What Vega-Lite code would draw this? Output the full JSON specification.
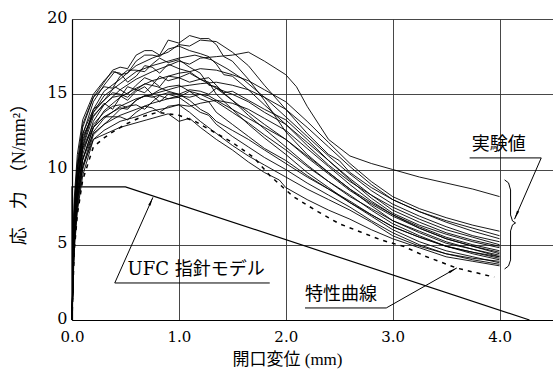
{
"$schema": "https://vega.github.io/schema/vega-lite/v6.json",
"width": 481, "height": 301,
"autosize": {"type": "none"},
"padding": {"left": 72, "top": 19, "right": 0, "bottom": 50},
"background": "white",
"config": {
 "view": {"stroke": null},
 "axis": {"gridColor": "#333", "gridWidth": 0.9, "gridOpacity": 1, "domainColor": "#000", "domainWidth": 1.2, "ticks": false,
  "labelColor": "#000", "labelFont": "DejaVu Serif", "labelFontSize": 16,
  "titleColor": "#000", "titleFont": "Liberation Serif, Noto Sans CJK JP", "titleFontSize": 18, "titleFontWeight": "normal"}
},
"datasets": {
"exp": [
{"s":1,"x":0,"y":0},{"s":1,"x":0.02,"y":7},{"s":1,"x":0.05,"y":10},{"s":1,"x":0.1,"y":12.8},{"s":1,"x":0.2,"y":14.8},{"s":1,"x":0.3,"y":15.8},{"s":1,"x":0.38,"y":16.6},{"s":1,"x":0.45,"y":16.8},{"s":1,"x":0.52,"y":16.7},{"s":1,"x":0.6,"y":17.6},{"s":1,"x":0.68,"y":17.9},{"s":1,"x":0.75,"y":17.9},{"s":1,"x":0.82,"y":17.6},{"s":1,"x":0.9,"y":18.6},{"s":1,"x":1.0,"y":18.4},{"s":1,"x":1.1,"y":18.9},{"s":1,"x":1.2,"y":18.7},{"s":1,"x":1.28,"y":18.7},{"s":1,"x":1.35,"y":18.3},{"s":1,"x":1.42,"y":17.5},{"s":1,"x":1.5,"y":17.2},{"s":1,"x":1.65,"y":16.0},{"s":1,"x":1.8,"y":14.6},{"s":1,"x":2.0,"y":12.5},{"s":1,"x":2.2,"y":11.0},{"s":1,"x":2.4,"y":9.8},{"s":1,"x":2.6,"y":8.7},{"s":1,"x":2.8,"y":7.8},{"s":1,"x":3.0,"y":7.0},{"s":1,"x":3.25,"y":6.2},{"s":1,"x":3.5,"y":5.5},{"s":1,"x":3.75,"y":5.0},{"s":1,"x":4.0,"y":4.6},
{"s":2,"x":0,"y":0},{"s":2,"x":0.02,"y":6},{"s":2,"x":0.05,"y":9},{"s":2,"x":0.1,"y":11.8},{"s":2,"x":0.2,"y":14.0},{"s":2,"x":0.3,"y":15.2},{"s":2,"x":0.45,"y":16.0},{"s":2,"x":0.6,"y":16.9},{"s":2,"x":0.75,"y":17.4},{"s":2,"x":0.9,"y":17.8},{"s":2,"x":1.0,"y":18.3},{"s":2,"x":1.1,"y":18.2},{"s":2,"x":1.2,"y":18.6},{"s":2,"x":1.35,"y":18.5},{"s":2,"x":1.5,"y":17.8},{"s":2,"x":1.65,"y":16.9},{"s":2,"x":1.8,"y":15.6},{"s":2,"x":2.0,"y":14.0},{"s":2,"x":2.2,"y":12.4},{"s":2,"x":2.4,"y":11.0},{"s":2,"x":2.5,"y":10.6},{"s":2,"x":2.6,"y":9.8},{"s":2,"x":2.8,"y":8.8},{"s":2,"x":3.0,"y":8.0},{"s":2,"x":3.25,"y":7.2},{"s":2,"x":3.5,"y":6.5},{"s":2,"x":3.75,"y":5.9},{"s":2,"x":4.0,"y":5.4},
{"s":3,"x":0,"y":0},{"s":3,"x":0.02,"y":6.5},{"s":3,"x":0.05,"y":9.5},{"s":3,"x":0.1,"y":12.3},{"s":3,"x":0.2,"y":14.5},{"s":3,"x":0.3,"y":15.6},{"s":3,"x":0.4,"y":16.5},{"s":3,"x":0.45,"y":16.3},{"s":3,"x":0.52,"y":16.4},{"s":3,"x":0.6,"y":17.2},{"s":3,"x":0.68,"y":17.6},{"s":3,"x":0.75,"y":17.6},{"s":3,"x":0.82,"y":17.5},{"s":3,"x":0.9,"y":18.0},{"s":3,"x":1.0,"y":18.2},{"s":3,"x":1.1,"y":17.9},{"s":3,"x":1.2,"y":17.7},{"s":3,"x":1.28,"y":17.5},{"s":3,"x":1.35,"y":17.0},{"s":3,"x":1.42,"y":16.3},{"s":3,"x":1.5,"y":16.2},{"s":3,"x":1.65,"y":15.3},{"s":3,"x":1.8,"y":14.3},{"s":3,"x":2.0,"y":13.0},{"s":3,"x":2.2,"y":11.6},{"s":3,"x":2.4,"y":10.3},{"s":3,"x":2.6,"y":9.2},{"s":3,"x":2.8,"y":8.3},{"s":3,"x":3.0,"y":7.5},{"s":3,"x":3.25,"y":6.7},{"s":3,"x":3.5,"y":6.0},{"s":3,"x":3.75,"y":5.5},{"s":3,"x":4.0,"y":5.0},
{"s":4,"x":0,"y":0},{"s":4,"x":0.02,"y":5.5},{"s":4,"x":0.05,"y":8.5},{"s":4,"x":0.1,"y":11.0},{"s":4,"x":0.2,"y":13.2},{"s":4,"x":0.3,"y":14.3},{"s":4,"x":0.45,"y":15.3},{"s":4,"x":0.6,"y":16.0},{"s":4,"x":0.75,"y":16.5},{"s":4,"x":0.9,"y":16.9},{"s":4,"x":1.0,"y":17.2},{"s":4,"x":1.1,"y":17.0},{"s":4,"x":1.2,"y":17.4},{"s":4,"x":1.35,"y":17.5},{"s":4,"x":1.5,"y":17.6},{"s":4,"x":1.65,"y":17.8},{"s":4,"x":1.8,"y":17.2},{"s":4,"x":2.0,"y":16.3},{"s":4,"x":2.1,"y":15.5},{"s":4,"x":2.2,"y":14.2},{"s":4,"x":2.4,"y":12.0},{"s":4,"x":2.6,"y":10.9},{"s":4,"x":2.8,"y":10.4},{"s":4,"x":3.0,"y":10.0},{"s":4,"x":3.25,"y":9.5},{"s":4,"x":3.5,"y":9.1},{"s":4,"x":3.75,"y":8.7},{"s":4,"x":4.0,"y":8.2},
{"s":5,"x":0,"y":0},{"s":5,"x":0.02,"y":7.5},{"s":5,"x":0.05,"y":10.5},{"s":5,"x":0.1,"y":13.0},{"s":5,"x":0.2,"y":14.8},{"s":5,"x":0.3,"y":15.5},{"s":5,"x":0.38,"y":15.4},{"s":5,"x":0.45,"y":16.2},{"s":5,"x":0.52,"y":16.6},{"s":5,"x":0.6,"y":16.6},{"s":5,"x":0.68,"y":16.5},{"s":5,"x":0.75,"y":17.0},{"s":5,"x":0.82,"y":17.4},{"s":5,"x":0.9,"y":17.1},{"s":5,"x":1.0,"y":17.3},{"s":5,"x":1.1,"y":16.8},{"s":5,"x":1.2,"y":16.4},{"s":5,"x":1.28,"y":15.6},{"s":5,"x":1.35,"y":15.5},{"s":5,"x":1.5,"y":14.6},{"s":5,"x":1.65,"y":13.6},{"s":5,"x":1.8,"y":12.7},{"s":5,"x":2.0,"y":11.5},{"s":5,"x":2.2,"y":10.3},{"s":5,"x":2.4,"y":9.2},{"s":5,"x":2.6,"y":8.2},{"s":5,"x":2.8,"y":7.4},{"s":5,"x":3.0,"y":6.6},{"s":5,"x":3.25,"y":5.9},{"s":5,"x":3.5,"y":5.2},{"s":5,"x":3.75,"y":4.7},{"s":5,"x":4.0,"y":4.2},
{"s":6,"x":0,"y":0},{"s":6,"x":0.02,"y":8},{"s":6,"x":0.05,"y":11},{"s":6,"x":0.1,"y":13.3},{"s":6,"x":0.2,"y":15.0},{"s":6,"x":0.3,"y":15.9},{"s":6,"x":0.38,"y":16.5},{"s":6,"x":0.45,"y":16.4},{"s":6,"x":0.52,"y":15.8},{"s":6,"x":0.6,"y":16.2},{"s":6,"x":0.68,"y":16.9},{"s":6,"x":0.75,"y":16.8},{"s":6,"x":0.82,"y":16.4},{"s":6,"x":0.9,"y":17.0},{"s":6,"x":1.0,"y":16.7},{"s":6,"x":1.1,"y":16.5},{"s":6,"x":1.2,"y":16.0},{"s":6,"x":1.35,"y":15.4},{"s":6,"x":1.5,"y":14.6},{"s":6,"x":1.65,"y":13.8},{"s":6,"x":1.8,"y":13.0},{"s":6,"x":2.0,"y":12.0},{"s":6,"x":2.2,"y":10.8},{"s":6,"x":2.4,"y":9.7},{"s":6,"x":2.6,"y":8.6},{"s":6,"x":2.8,"y":7.7},{"s":6,"x":3.0,"y":6.9},{"s":6,"x":3.25,"y":6.1},{"s":6,"x":3.5,"y":5.4},{"s":6,"x":3.75,"y":4.9},{"s":6,"x":4.0,"y":4.4},
{"s":7,"x":0,"y":0},{"s":7,"x":0.02,"y":5},{"s":7,"x":0.05,"y":8},{"s":7,"x":0.1,"y":10.6},{"s":7,"x":0.2,"y":12.8},{"s":7,"x":0.3,"y":13.9},{"s":7,"x":0.45,"y":14.8},{"s":7,"x":0.6,"y":15.4},{"s":7,"x":0.75,"y":15.9},{"s":7,"x":0.9,"y":16.2},{"s":7,"x":1.0,"y":16.4},{"s":7,"x":1.1,"y":16.5},{"s":7,"x":1.2,"y":16.7},{"s":7,"x":1.35,"y":16.6},{"s":7,"x":1.5,"y":16.3},{"s":7,"x":1.65,"y":15.9},{"s":7,"x":1.8,"y":15.3},{"s":7,"x":2.0,"y":14.5},{"s":7,"x":2.2,"y":13.2},{"s":7,"x":2.4,"y":11.8},{"s":7,"x":2.6,"y":10.4},{"s":7,"x":2.8,"y":9.2},{"s":7,"x":3.0,"y":8.2},{"s":7,"x":3.25,"y":7.4},{"s":7,"x":3.5,"y":6.8},{"s":7,"x":3.75,"y":6.3},{"s":7,"x":4.0,"y":5.9},
{"s":8,"x":0,"y":0},{"s":8,"x":0.02,"y":6.5},{"s":8,"x":0.05,"y":9.5},{"s":8,"x":0.1,"y":12.0},{"s":8,"x":0.2,"y":13.8},{"s":8,"x":0.3,"y":14.6},{"s":8,"x":0.4,"y":15.5},{"s":8,"x":0.45,"y":15.3},{"s":8,"x":0.52,"y":15.0},{"s":8,"x":0.6,"y":15.6},{"s":8,"x":0.68,"y":16.1},{"s":8,"x":0.75,"y":15.9},{"s":8,"x":0.82,"y":15.5},{"s":8,"x":0.9,"y":16.2},{"s":8,"x":1.0,"y":16.1},{"s":8,"x":1.1,"y":16.4},{"s":8,"x":1.2,"y":16.0},{"s":8,"x":1.28,"y":15.8},{"s":8,"x":1.35,"y":15.0},{"s":8,"x":1.5,"y":14.0},{"s":8,"x":1.65,"y":13.0},{"s":8,"x":1.8,"y":12.1},{"s":8,"x":2.0,"y":11.0},{"s":8,"x":2.2,"y":9.8},{"s":8,"x":2.4,"y":8.8},{"s":8,"x":2.6,"y":7.8},{"s":8,"x":2.8,"y":7.0},{"s":8,"x":3.0,"y":6.2},{"s":8,"x":3.25,"y":5.5},{"s":8,"x":3.5,"y":4.9},{"s":8,"x":3.75,"y":4.4},{"s":8,"x":4.0,"y":4.0},
{"s":9,"x":0,"y":0},{"s":9,"x":0.02,"y":6},{"s":9,"x":0.05,"y":9},{"s":9,"x":0.1,"y":11.5},{"s":9,"x":0.2,"y":13.5},{"s":9,"x":0.3,"y":14.4},{"s":9,"x":0.38,"y":14.0},{"s":9,"x":0.45,"y":14.8},{"s":9,"x":0.52,"y":15.5},{"s":9,"x":0.6,"y":15.3},{"s":9,"x":0.68,"y":15.1},{"s":9,"x":0.75,"y":15.6},{"s":9,"x":0.82,"y":16.2},{"s":9,"x":0.9,"y":15.9},{"s":9,"x":1.0,"y":16.1},{"s":9,"x":1.1,"y":15.8},{"s":9,"x":1.2,"y":16.0},{"s":9,"x":1.28,"y":16.1},{"s":9,"x":1.35,"y":15.6},{"s":9,"x":1.42,"y":15.1},{"s":9,"x":1.5,"y":15.2},{"s":9,"x":1.65,"y":14.6},{"s":9,"x":1.8,"y":14.0},{"s":9,"x":2.0,"y":13.3},{"s":9,"x":2.2,"y":12.0},{"s":9,"x":2.4,"y":10.6},{"s":9,"x":2.6,"y":9.3},{"s":9,"x":2.8,"y":8.1},{"s":9,"x":3.0,"y":7.1},{"s":9,"x":3.25,"y":6.3},{"s":9,"x":3.5,"y":5.7},{"s":9,"x":3.75,"y":5.2},{"s":9,"x":4.0,"y":4.8},
{"s":10,"x":0,"y":0},{"s":10,"x":0.02,"y":5},{"s":10,"x":0.05,"y":7.8},{"s":10,"x":0.1,"y":10.2},{"s":10,"x":0.2,"y":12.5},{"s":10,"x":0.3,"y":13.4},{"s":10,"x":0.45,"y":14.2},{"s":10,"x":0.6,"y":14.7},{"s":10,"x":0.75,"y":15.0},{"s":10,"x":0.9,"y":15.3},{"s":10,"x":1.0,"y":15.5},{"s":10,"x":1.1,"y":15.6},{"s":10,"x":1.2,"y":15.7},{"s":10,"x":1.35,"y":15.8},{"s":10,"x":1.5,"y":15.6},{"s":10,"x":1.65,"y":15.3},{"s":10,"x":1.8,"y":14.8},{"s":10,"x":2.0,"y":14.0},{"s":10,"x":2.2,"y":12.8},{"s":10,"x":2.4,"y":11.5},{"s":10,"x":2.6,"y":10.2},{"s":10,"x":2.8,"y":9.0},{"s":10,"x":3.0,"y":8.0},{"s":10,"x":3.25,"y":7.2},{"s":10,"x":3.5,"y":6.6},{"s":10,"x":3.75,"y":6.1},{"s":10,"x":4.0,"y":5.6},
{"s":11,"x":0,"y":0},{"s":11,"x":0.02,"y":7},{"s":11,"x":0.05,"y":10},{"s":11,"x":0.1,"y":12.2},{"s":11,"x":0.2,"y":13.6},{"s":11,"x":0.3,"y":14.3},{"s":11,"x":0.38,"y":14.8},{"s":11,"x":0.45,"y":14.9},{"s":11,"x":0.52,"y":14.6},{"s":11,"x":0.6,"y":15.2},{"s":11,"x":0.68,"y":15.5},{"s":11,"x":0.75,"y":15.0},{"s":11,"x":0.82,"y":15.3},{"s":11,"x":0.9,"y":15.5},{"s":11,"x":1.0,"y":15.6},{"s":11,"x":1.1,"y":15.2},{"s":11,"x":1.2,"y":14.7},{"s":11,"x":1.28,"y":14.5},{"s":11,"x":1.35,"y":13.8},{"s":11,"x":1.5,"y":13.0},{"s":11,"x":1.65,"y":12.2},{"s":11,"x":1.8,"y":11.4},{"s":11,"x":2.0,"y":10.6},{"s":11,"x":2.2,"y":9.6},{"s":11,"x":2.4,"y":8.7},{"s":11,"x":2.6,"y":7.8},{"s":11,"x":2.8,"y":6.9},{"s":11,"x":3.0,"y":6.0},{"s":11,"x":3.25,"y":5.2},{"s":11,"x":3.5,"y":4.6},{"s":11,"x":3.75,"y":4.2},{"s":11,"x":4.0,"y":3.8},
{"s":12,"x":0,"y":0},{"s":12,"x":0.02,"y":5.5},{"s":12,"x":0.05,"y":8.3},{"s":12,"x":0.1,"y":10.7},{"s":12,"x":0.2,"y":12.8},{"s":12,"x":0.3,"y":13.5},{"s":12,"x":0.45,"y":14.1},{"s":12,"x":0.52,"y":14.0},{"s":12,"x":0.6,"y":14.6},{"s":12,"x":0.68,"y":14.9},{"s":12,"x":0.75,"y":14.8},{"s":12,"x":0.9,"y":15.1},{"s":12,"x":1.0,"y":15.0},{"s":12,"x":1.1,"y":15.3},{"s":12,"x":1.2,"y":15.2},{"s":12,"x":1.28,"y":15.0},{"s":12,"x":1.35,"y":15.4},{"s":12,"x":1.5,"y":15.0},{"s":12,"x":1.65,"y":14.5},{"s":12,"x":1.8,"y":13.8},{"s":12,"x":2.0,"y":13.0},{"s":12,"x":2.2,"y":11.8},{"s":12,"x":2.4,"y":10.6},{"s":12,"x":2.6,"y":9.4},{"s":12,"x":2.8,"y":8.3},{"s":12,"x":3.0,"y":7.3},{"s":12,"x":3.25,"y":6.5},{"s":12,"x":3.5,"y":5.8},{"s":12,"x":3.75,"y":5.3},{"s":12,"x":4.0,"y":4.9},
{"s":13,"x":0,"y":0},{"s":13,"x":0.02,"y":6},{"s":13,"x":0.05,"y":9},{"s":13,"x":0.1,"y":11.4},{"s":13,"x":0.2,"y":13.0},{"s":13,"x":0.3,"y":13.8},{"s":13,"x":0.38,"y":14.2},{"s":13,"x":0.45,"y":14.3},{"s":13,"x":0.52,"y":14.1},{"s":13,"x":0.6,"y":14.6},{"s":13,"x":0.68,"y":14.9},{"s":13,"x":0.75,"y":14.9},{"s":13,"x":0.82,"y":14.5},{"s":13,"x":0.9,"y":15.0},{"s":13,"x":1.0,"y":14.8},{"s":13,"x":1.1,"y":15.2},{"s":13,"x":1.2,"y":15.0},{"s":13,"x":1.28,"y":14.9},{"s":13,"x":1.35,"y":14.6},{"s":13,"x":1.5,"y":14.0},{"s":13,"x":1.65,"y":13.4},{"s":13,"x":1.8,"y":12.8},{"s":13,"x":2.0,"y":12.0},{"s":13,"x":2.2,"y":10.9},{"s":13,"x":2.4,"y":9.8},{"s":13,"x":2.6,"y":8.7},{"s":13,"x":2.8,"y":7.6},{"s":13,"x":3.0,"y":6.6},{"s":13,"x":3.25,"y":5.8},{"s":13,"x":3.5,"y":5.1},{"s":13,"x":3.75,"y":4.7},{"s":13,"x":4.0,"y":4.3},
{"s":14,"x":0,"y":0},{"s":14,"x":0.02,"y":5},{"s":14,"x":0.05,"y":7.5},{"s":14,"x":0.1,"y":10.0},{"s":14,"x":0.2,"y":12.3},{"s":14,"x":0.3,"y":13.0},{"s":14,"x":0.45,"y":13.6},{"s":14,"x":0.6,"y":14.0},{"s":14,"x":0.75,"y":14.4},{"s":14,"x":0.9,"y":14.7},{"s":14,"x":1.0,"y":14.9},{"s":14,"x":1.1,"y":14.8},{"s":14,"x":1.2,"y":15.0},{"s":14,"x":1.35,"y":14.5},{"s":14,"x":1.5,"y":13.8},{"s":14,"x":1.65,"y":13.1},{"s":14,"x":1.8,"y":12.3},{"s":14,"x":2.0,"y":11.3},{"s":14,"x":2.2,"y":10.2},{"s":14,"x":2.4,"y":9.2},{"s":14,"x":2.6,"y":8.3},{"s":14,"x":2.8,"y":7.3},{"s":14,"x":3.0,"y":6.4},{"s":14,"x":3.25,"y":5.6},{"s":14,"x":3.5,"y":4.9},{"s":14,"x":3.75,"y":4.5},{"s":14,"x":4.0,"y":4.1},
{"s":15,"x":0,"y":0},{"s":15,"x":0.02,"y":6.5},{"s":15,"x":0.05,"y":9.2},{"s":15,"x":0.1,"y":11.3},{"s":15,"x":0.2,"y":12.8},{"s":15,"x":0.3,"y":13.5},{"s":15,"x":0.38,"y":13.5},{"s":15,"x":0.45,"y":14.0},{"s":15,"x":0.52,"y":14.2},{"s":15,"x":0.6,"y":14.3},{"s":15,"x":0.68,"y":14.0},{"s":15,"x":0.75,"y":14.5},{"s":15,"x":0.82,"y":14.9},{"s":15,"x":0.9,"y":14.7},{"s":15,"x":1.0,"y":14.8},{"s":15,"x":1.1,"y":14.3},{"s":15,"x":1.2,"y":13.8},{"s":15,"x":1.28,"y":13.6},{"s":15,"x":1.35,"y":13.0},{"s":15,"x":1.5,"y":12.2},{"s":15,"x":1.65,"y":11.5},{"s":15,"x":1.8,"y":10.8},{"s":15,"x":2.0,"y":10.0},{"s":15,"x":2.2,"y":9.1},{"s":15,"x":2.4,"y":8.3},{"s":15,"x":2.6,"y":7.5},{"s":15,"x":2.8,"y":6.6},{"s":15,"x":3.0,"y":5.8},{"s":15,"x":3.25,"y":5.0},{"s":15,"x":3.5,"y":4.4},{"s":15,"x":3.75,"y":4.0},{"s":15,"x":4.0,"y":3.7},
{"s":16,"x":0,"y":0},{"s":16,"x":0.02,"y":4.5},{"s":16,"x":0.05,"y":7.2},{"s":16,"x":0.1,"y":9.6},{"s":16,"x":0.2,"y":12.0},{"s":16,"x":0.3,"y":12.6},{"s":16,"x":0.45,"y":13.2},{"s":16,"x":0.6,"y":13.5},{"s":16,"x":0.75,"y":13.9},{"s":16,"x":0.9,"y":14.1},{"s":16,"x":1.0,"y":14.3},{"s":16,"x":1.1,"y":14.2},{"s":16,"x":1.2,"y":14.4},{"s":16,"x":1.35,"y":14.6},{"s":16,"x":1.5,"y":14.4},{"s":16,"x":1.65,"y":14.0},{"s":16,"x":1.8,"y":13.4},{"s":16,"x":2.0,"y":12.6},{"s":16,"x":2.2,"y":11.4},{"s":16,"x":2.4,"y":10.2},{"s":16,"x":2.6,"y":9.0},{"s":16,"x":2.8,"y":7.9},{"s":16,"x":3.0,"y":7.0},{"s":16,"x":3.25,"y":6.1},{"s":16,"x":3.5,"y":5.4},{"s":16,"x":3.75,"y":4.9},{"s":16,"x":4.0,"y":4.5},
{"s":17,"x":0,"y":0},{"s":17,"x":0.02,"y":6},{"s":17,"x":0.05,"y":8.6},{"s":17,"x":0.1,"y":10.7},{"s":17,"x":0.2,"y":12.4},{"s":17,"x":0.3,"y":13.0},{"s":17,"x":0.38,"y":13.5},{"s":17,"x":0.45,"y":13.5},{"s":17,"x":0.52,"y":13.3},{"s":17,"x":0.6,"y":13.8},{"s":17,"x":0.68,"y":14.2},{"s":17,"x":0.75,"y":14.1},{"s":17,"x":0.82,"y":13.8},{"s":17,"x":0.9,"y":14.2},{"s":17,"x":1.0,"y":14.3},{"s":17,"x":1.1,"y":13.8},{"s":17,"x":1.2,"y":13.2},{"s":17,"x":1.35,"y":12.4},{"s":17,"x":1.5,"y":11.6},{"s":17,"x":1.65,"y":10.9},{"s":17,"x":1.8,"y":10.3},{"s":17,"x":2.0,"y":9.5},{"s":17,"x":2.2,"y":8.7},{"s":17,"x":2.4,"y":8.0},{"s":17,"x":2.6,"y":7.3},{"s":17,"x":2.8,"y":6.5},{"s":17,"x":3.0,"y":5.6},{"s":17,"x":3.25,"y":4.9},{"s":17,"x":3.5,"y":4.4},{"s":17,"x":3.75,"y":4.1},{"s":17,"x":4.0,"y":3.9},
{"s":18,"x":0,"y":0},{"s":18,"x":0.02,"y":5.5},{"s":18,"x":0.05,"y":8},{"s":18,"x":0.1,"y":10.2},{"s":18,"x":0.2,"y":12.0},{"s":18,"x":0.26,"y":12.2},{"s":18,"x":0.45,"y":12.8},{"s":18,"x":0.7,"y":13.3},{"s":18,"x":0.9,"y":13.7},{"s":18,"x":1.0,"y":13.2},{"s":18,"x":1.1,"y":13.4},{"s":18,"x":1.2,"y":12.8},{"s":18,"x":1.35,"y":12.0},{"s":18,"x":1.5,"y":11.3},{"s":18,"x":1.65,"y":10.5},{"s":18,"x":1.8,"y":9.8},{"s":18,"x":1.94,"y":9.3},{"s":18,"x":2.0,"y":8.8},{"s":18,"x":2.2,"y":8.0},{"s":18,"x":2.4,"y":7.3},{"s":18,"x":2.6,"y":6.7},{"s":18,"x":2.8,"y":6.0},{"s":18,"x":3.0,"y":5.4},{"s":18,"x":3.25,"y":4.8},{"s":18,"x":3.5,"y":4.2},{"s":18,"x":3.75,"y":3.9},{"s":18,"x":4.0,"y":3.6},
{"s":19,"x":0,"y":0},{"s":19,"x":0.02,"y":7},{"s":19,"x":0.05,"y":10.2},{"s":19,"x":0.1,"y":12.4},{"s":19,"x":0.2,"y":14.0},{"s":19,"x":0.3,"y":14.6},{"s":19,"x":0.38,"y":15.1},{"s":19,"x":0.45,"y":15.0},{"s":19,"x":0.52,"y":14.8},{"s":19,"x":0.6,"y":15.3},{"s":19,"x":0.68,"y":15.7},{"s":19,"x":0.8,"y":15.5},{"s":19,"x":0.9,"y":15.2},{"s":19,"x":1.0,"y":15.0},{"s":19,"x":1.1,"y":14.6},{"s":19,"x":1.2,"y":14.0},{"s":19,"x":1.28,"y":13.7},{"s":19,"x":1.35,"y":13.2},{"s":19,"x":1.5,"y":12.6},{"s":19,"x":1.65,"y":12.0},{"s":19,"x":1.8,"y":11.3},{"s":19,"x":2.0,"y":10.4},{"s":19,"x":2.2,"y":9.5},{"s":19,"x":2.4,"y":8.7},{"s":19,"x":2.6,"y":7.9},{"s":19,"x":2.8,"y":7.0},{"s":19,"x":3.0,"y":6.2},{"s":19,"x":3.25,"y":5.5},{"s":19,"x":3.5,"y":4.9},{"s":19,"x":3.75,"y":4.5},{"s":19,"x":4.0,"y":4.2},
{"s":20,"x":0,"y":0},{"s":20,"x":0.02,"y":6},{"s":20,"x":0.05,"y":9},{"s":20,"x":0.1,"y":11.6},{"s":20,"x":0.2,"y":13.8},{"s":20,"x":0.3,"y":14.9},{"s":20,"x":0.45,"y":15.7},{"s":20,"x":0.6,"y":16.5},{"s":20,"x":0.75,"y":16.9},{"s":20,"x":0.9,"y":17.2},{"s":20,"x":1.0,"y":17.4},{"s":20,"x":1.15,"y":17.6},{"s":20,"x":1.3,"y":17.3},{"s":20,"x":1.45,"y":16.7},{"s":20,"x":1.6,"y":16.0},{"s":20,"x":1.8,"y":14.8},{"s":20,"x":2.0,"y":13.5},{"s":20,"x":2.2,"y":12.2},{"s":20,"x":2.4,"y":10.9},{"s":20,"x":2.6,"y":9.7},{"s":20,"x":2.8,"y":8.6},{"s":20,"x":3.0,"y":7.7},{"s":20,"x":3.25,"y":6.9},{"s":20,"x":3.5,"y":6.2},{"s":20,"x":3.75,"y":5.6},{"s":20,"x":4.0,"y":5.2}
],
"char": [
{"x":0,"y":0},{"x":0.02,"y":4.5},{"x":0.05,"y":7},{"x":0.1,"y":9.3},{"x":0.2,"y":11.5},{"x":0.3,"y":12.1},{"x":0.36,"y":12.4},{"x":0.5,"y":13.0},{"x":0.65,"y":13.5},{"x":0.8,"y":13.8},{"x":1.0,"y":13.6},{"x":1.15,"y":13.2},{"x":1.3,"y":12.6},{"x":1.5,"y":11.8},{"x":1.7,"y":10.8},{"x":1.85,"y":9.6},{"x":2.07,"y":8.2},{"x":2.3,"y":7.2},{"x":2.5,"y":6.4},{"x":2.7,"y":5.85},{"x":2.9,"y":5.3},{"x":3.1,"y":4.9},{"x":3.3,"y":4.25},{"x":3.6,"y":3.45},{"x":3.95,"y":2.85}
],
"ufc": [
{"i":0,"x":0,"y":0},{"i":1,"x":0,"y":8.85},{"i":2,"x":0.5,"y":8.85},{"i":3,"x":4.28,"y":0}
],
"brace": [
{"i":0,"x":4.047,"y":9.31},{"i":1,"x":4.084,"y":9.11},{"i":2,"x":4.103,"y":8.64},{"i":3,"x":4.103,"y":6.98},{"i":4,"x":4.121,"y":6.58},{"i":5,"x":4.15,"y":6.45},{"i":6,"x":4.121,"y":6.32},{"i":7,"x":4.103,"y":5.92},{"i":8,"x":4.103,"y":3.99},{"i":9,"x":4.084,"y":3.59},{"i":10,"x":4.047,"y":3.39}
],
"rules": [
{"x":0.40,"y":2.46,"x2":1.85,"y2":2.46},{"x":0.40,"y":2.46,"x2":0.757,"y2":8.15},
{"x":2.18,"y":0.8,"x2":2.94,"y2":0.8},{"x":2.94,"y":0.8,"x2":3.6,"y2":3.46},
{"x":3.72,"y":10.77,"x2":4.39,"y2":10.77},{"x":4.39,"y":10.77,"x2":4.14,"y2":6.7}
],
"heads": [
{"x":0.757,"y":8.15,"a":24},{"x":3.6,"y":3.46,"a":60},{"x":4.14,"y":6.7,"a":204}
],
"txt": [
{"x":0.52,"y":3.3,"t":"UFC 指針モデル"},{"x":2.18,"y":1.66,"t":"特性曲線"},{"x":3.74,"y":11.6,"t":"実験値"}
]
},
"encoding": {
 "x": {"field": "x", "type": "quantitative", "scale": {"domain": [0, 4.5], "nice": false, "zero": false},
  "axis": {"values": [0, 1, 2, 3, 4], "format": ".1f", "labelFlush": false, "labelPadding": 9, "labelFontSize": 15,
   "title": "開口変位 (mm)", "titleFontSize": 17, "titleX": 215, "titleY": 39, "titleBaseline": "middle"}},
 "y": {"field": "y", "type": "quantitative", "scale": {"domain": [0, 20], "nice": false},
  "axis": {"values": [0, 5, 10, 15, 20], "labelPadding": 5, "labelOffset": -2, "title": "応　力　（N/mm²）", "titlePadding": 18}}
},
"layer": [
 {"data": {"name": "exp"}, "mark": {"type": "line", "color": "#000", "strokeWidth": 0.9}, "encoding": {"detail": {"field": "s", "type": "nominal"}}},
 {"data": {"name": "char"}, "mark": {"type": "line", "color": "#000", "strokeWidth": 1.5, "strokeDash": [4, 5]}, "encoding": {}},
 {"data": {"name": "ufc"}, "mark": {"type": "line", "color": "#000", "strokeWidth": 1.2}, "encoding": {"order": {"field": "i", "type": "quantitative"}}},
 {"data": {"name": "brace"}, "mark": {"type": "line", "color": "#000", "strokeWidth": 1}, "encoding": {"order": {"field": "i", "type": "quantitative"}}},
 {"data": {"name": "rules"}, "mark": {"type": "rule", "color": "#000", "strokeWidth": 1}, "encoding": {"x2": {"field": "x2"}, "y2": {"field": "y2"}}},
 {"data": {"name": "heads"}, "mark": {"type": "point", "filled": true, "color": "#000", "opacity": 1, "shape": "M0,0L0.3,2.2L-0.3,2.2Z", "size": 64, "strokeWidth": 0}, "encoding": {"angle": {"field": "a", "type": "quantitative", "scale": null}}},
 {"data": {"name": "txt"}, "mark": {"type": "text", "align": "left", "baseline": "middle", "font": "DejaVu Serif, Noto Sans CJK JP", "fontSize": 18, "color": "#000"}, "encoding": {"text": {"field": "t"}}}
]
}
